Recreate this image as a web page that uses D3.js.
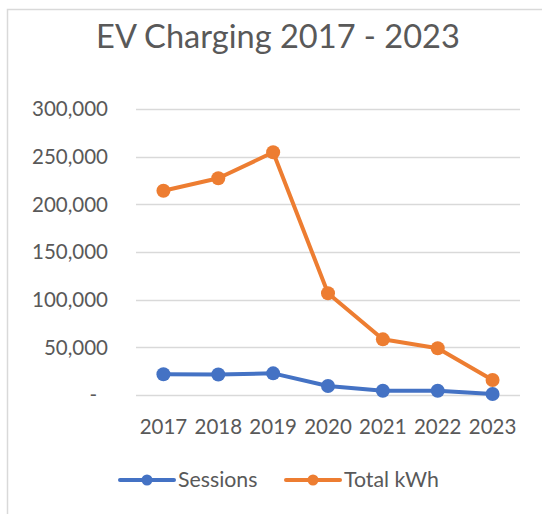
<!DOCTYPE html>
<html>
<head>
<meta charset="utf-8">
<script src="https://cdn.jsdelivr.net/npm/d3@7"></script>
<style>
  html, body { margin: 0; padding: 0; background: #fff; }
  svg { display: block; font-family: Lato, "Open Sans", sans-serif; }
  .tick-label { fill: #595959; font-size: 20.5px; }
  .legend-label { fill: #595959; font-size: 21.3px; }
  .title { fill: #595959; font-size: 32.6px; }
</style>
</head>
<body>
<div id="chart"></div>
<script>
// Values (Excel-style line chart).
const years = ['2017', '2018', '2019', '2020', '2021', '2022', '2023'];
const sessions = [21700, 21500, 22700, 9400, 4500, 4500, 1000];
const totalKwh = [214300, 227300, 254600, 106700, 58400, 49000, 15700];
const yTicks = [0, 50000, 100000, 150000, 200000, 250000, 300000];

const series = [
  { name: 'Sessions', values: sessions, color: '#4472C4' },
  { name: 'Total kWh', values: totalKwh, color: '#ED7D31' },
];

const W = 542, H = 514;
const svg = d3.select('#chart').append('svg').attr('width', W).attr('height', H);

// chart-area border, runs off the right/bottom edge like the screenshot
svg.append('rect')
  .attr('x', 7.5).attr('y', 9.5)
  .attr('width', 700).attr('height', 700)
  .attr('fill', '#fff').attr('stroke', '#d9d9d9').attr('stroke-width', 1.5);

svg.append('text')
  .attr('class', 'title')
  .attr('x', 278).attr('y', 48)
  .attr('text-anchor', 'middle')
  .text('EV Charging 2017 - 2023');

const x = d3.scaleBand().domain(years).range([136, 520]);
const y = d3.scaleLinear().domain([0, 300000]).range([395, 109]);

// gridlines
svg.append('g').selectAll('line')
  .data(yTicks)
  .join('line')
  .attr('x1', 136).attr('x2', 520)
  .attr('y1', (d) => Math.round(y(d)) + 0.5)
  .attr('y2', (d) => Math.round(y(d)) + 0.5)
  .attr('stroke', '#d9d9d9').attr('stroke-width', 1.5);

// y labels, accounting style: zero shows as an indented dash
const fmt = d3.format(',');
svg.append('g').selectAll('text')
  .data(yTicks)
  .join('text')
  .attr('class', 'tick-label')
  .attr('x', (d) => (d === 0 ? 97 : 108))
  .attr('y', (d) => y(d))
  .attr('dy', '0.35em')
  .attr('text-anchor', 'end')
  .text((d) => (d === 0 ? '-' : fmt(d)));

// x labels
svg.append('g').selectAll('text')
  .data(years)
  .join('text')
  .attr('class', 'tick-label')
  .attr('x', (d) => x(d) + x.bandwidth() / 2)
  .attr('y', 434)
  .attr('text-anchor', 'middle')
  .text((d) => d);

const line = d3.line()
  .x((d, i) => x(years[i]) + x.bandwidth() / 2)
  .y((d) => y(d));

series.forEach((s) => {
  const g = svg.append('g');
  g.append('path')
    .attr('d', line(s.values))
    .attr('fill', 'none')
    .attr('stroke', s.color)
    .attr('stroke-width', 4)
    .attr('stroke-linejoin', 'round')
    .attr('stroke-linecap', 'round');
  g.selectAll('circle')
    .data(s.values)
    .join('circle')
    .attr('cx', (d, i) => x(years[i]) + x.bandwidth() / 2)
    .attr('cy', (d) => y(d))
    .attr('r', 7)
    .attr('fill', s.color);
});

// legend
const legendX = [120, 286];
const legend = svg.append('g').attr('transform', 'translate(0,480)');
series.forEach((s, i) => {
  const lx = legendX[i];
  legend.append('line')
    .attr('x1', lx).attr('x2', lx + 54)
    .attr('y1', 0).attr('y2', 0)
    .attr('stroke', s.color).attr('stroke-width', 4)
    .attr('stroke-linecap', 'round');
  legend.append('circle')
    .attr('cx', lx + 27).attr('cy', 0).attr('r', 5.5)
    .attr('fill', s.color);
  legend.append('text')
    .attr('class', 'legend-label')
    .attr('x', lx + 58).attr('y', 0)
    .attr('dy', '0.35em')
    .text(s.name);
});
</script>
</body>
</html>
